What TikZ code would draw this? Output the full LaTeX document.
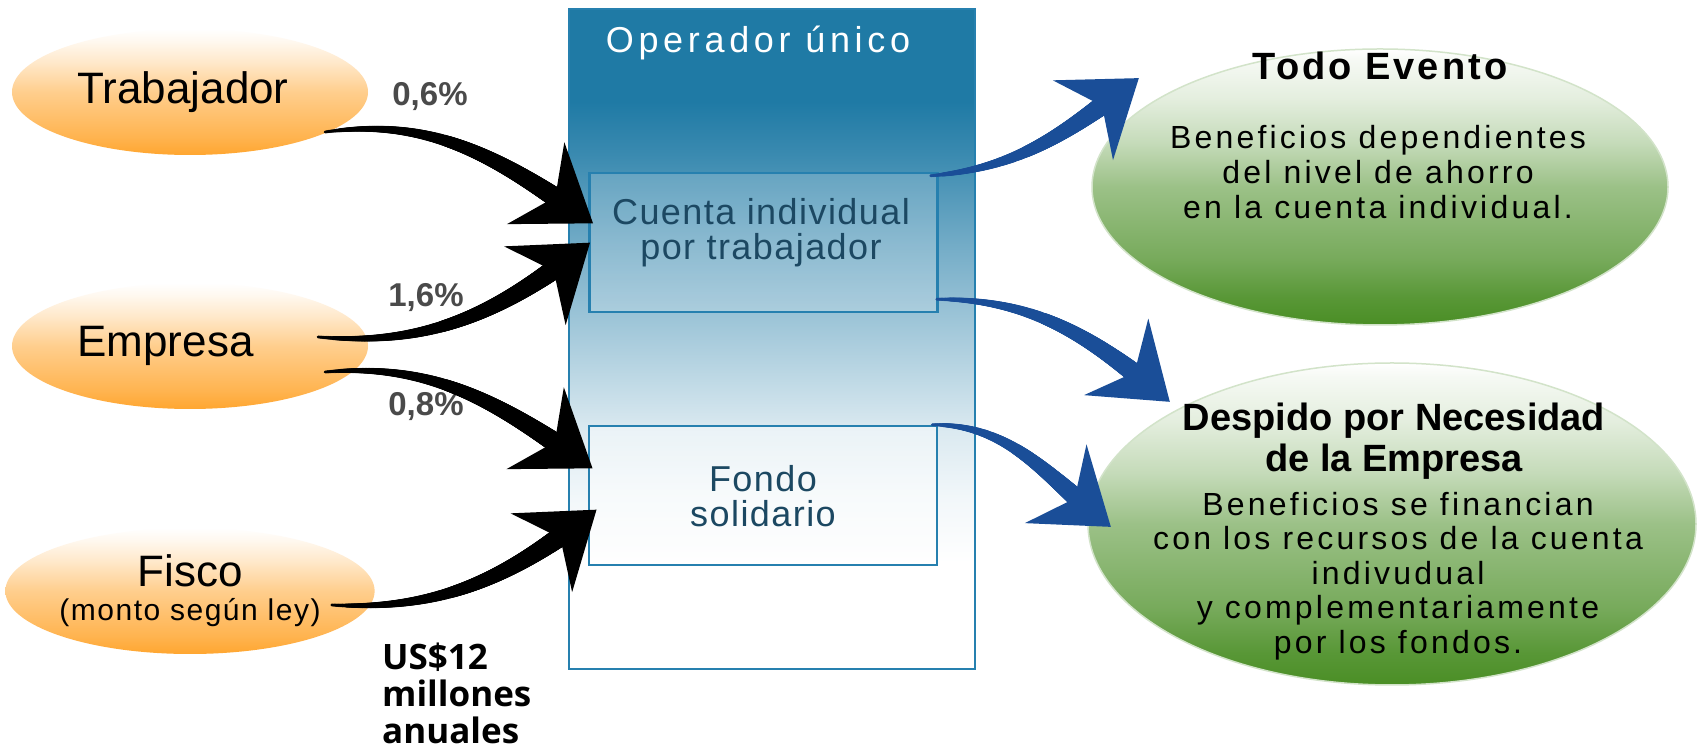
\documentclass[tikz,border=0pt]{standalone}
\usepackage{fontspec}
\setmainfont{Liberation Sans}
\newfontfamily\opfont[LetterSpace=13]{Liberation Sans}
\newfontfamily\cajafont[LetterSpace=4]{Liberation Sans}
\newfontfamily\verdefont[LetterSpace=10]{Liberation Sans}
\newfontfamily\todofont[LetterSpace=8]{Liberation Sans}
\newfontfamily\montofont[LetterSpace=5]{Liberation Sans}
\newfontfamily\usfont{Open Sans}
\usetikzlibrary{shapes,positioning,decorations.markings}

\definecolor{opblue}{RGB}{31,122,165}
\definecolor{opborde}{RGB}{38,128,175}
\definecolor{cajatexto}{RGB}{28,72,98}
\definecolor{azulflecha}{RGB}{26,78,152}
\definecolor{naranja}{RGB}{255,166,48}
\definecolor{verde}{RGB}{74,142,37}
\definecolor{gris}{RGB}{74,74,74}

\pgfdeclareverticalshading{opshade}{100bp}{color(0bp)=(white); color(33bp)=(white);
  color(38bp)=(opblue!6); color(43bp)=(opblue!16); color(51bp)=(opblue!42);
  color(57bp)=(opblue!62); color(64bp)=(opblue!88); color(68bp)=(opblue); color(100bp)=(opblue)}
\pgfdeclareverticalshading{naranjashade}{100bp}{color(0bp)=(naranja); color(25bp)=(naranja);
  color(32bp)=(naranja!85); color(50bp)=(naranja!55); color(62bp)=(naranja!25);
  color(70bp)=(naranja!8); color(75bp)=(white); color(100bp)=(white)}
\pgfdeclareverticalshading{verdeshade}{100bp}{color(0bp)=(verde); color(25bp)=(verde);
  color(30bp)=(verde!92); color(37bp)=(verde!75); color(50bp)=(verde!55); color(58bp)=(verde!32);
  color(66bp)=(verde!15); color(73bp)=(verde!5); color(75bp)=(white); color(100bp)=(white)}

\tikzset{
  origen/.style={ellipse, shade, shading=naranjashade, minimum width=356, minimum height=126,
    inner sep=0, font=\fontsize{44}{48}\selectfont},
  destino/.style={ellipse, shade, shading=verdeshade, draw=verde!25, line width=1.5},
  caja/.style={rectangle, draw=opborde, line width=2.5, minimum width=348, minimum height=139},
  cajatxt/.style={inner sep=0, align=center, text=cajatexto, font=\cajafont\fontsize{36}{35}\selectfont},
  pct/.style={text=gris, font=\bfseries\fontsize{33}{36}\selectfont},
  titulo/.style={inner sep=0, align=center, font=\bfseries\fontsize{38}{41}\selectfont},
  cuerpo/.style={inner sep=0, align=center, font=\verdefont\fontsize{32}{35}\selectfont},
  % cola que se ensancha + punta
  flecha/.style={
    postaction={decorate, decoration={markings,
      mark=between positions 0 and 0.88 step 0.8pt with {%
        \pgfmathsetmacro\grosor{1.5+10*\pgfkeysvalueof{/pgf/decoration/mark info/distance from start}/\pgfdecoratedpathlength}%
        \fill[#1] (0,0) circle (\grosor);}}},
    postaction={decorate, decoration={markings,
      mark=at position 0.999 with {\fill[#1] (0,0) -- (-70,50) -- (-46,0) -- (-70,-50) -- cycle;}}}}
}

\begin{document}
\begin{tikzpicture}[x=1pt,y=1pt]
\useasboundingbox (0,0) rectangle (1698,752);
\fill[white] (0,0) rectangle (1698,752);

% operador unico
\node[draw=opborde, line width=2.5, shade, shading=opshade, minimum width=406, minimum height=660] (op) at (772,413) {};
\node[text=white, font=\opfont\fontsize{36}{40}\selectfont] (optitulo) at (758,709) {Operador único};
\node[caja, fill=white, fill opacity=0.18] (cuenta) at (763.5,509.5) {};
\node[caja, fill=white, fill opacity=0.45] (fondo) at (763,256.5) {};
\node[cajatxt, anchor=north] (cuentatxt) at (761,554) {Cuenta individual\\por trabajador};
\node[cajatxt, anchor=north] (fondotxt) at (763,287) {Fondo\\solidario};

% aportantes
\node[origen, text width=225, align=left] (trab) at (190,660) {Trabajador};
\node[origen, text width=225, align=left] (emp) at (190,406) {Empresa};
\node[origen, align=center] (fisco) at (190,161) {Fisco\\[-14pt]{\montofont\fontsize{30}{34}\selectfont (monto según ley)}};
\node[pct] (p1) at (430,655) {0,6\%};
\node[pct] (p2) at (426,454) {1,6\%};
\node[pct] (p3) at (426,345) {0,8\%};
\node[anchor=north west, inner sep=0, align=left, font=\usfont\bfseries\fontsize{35}{37}\selectfont] (us) at (382,109) {US\$12\\millones\\anuales};

% beneficios
\node[destino, minimum width=576, minimum height=276] (todo) at (1380,565) {};
\node[destino, minimum width=608, minimum height=322] (despido) at (1392,228) {};
\node[titulo, font=\todofont\bfseries\fontsize{38}{41}\selectfont] (todotit) at (1380,686) {Todo Evento};
\node[cuerpo, anchor=north] (todotxt) at (1378,627) {Beneficios dependientes\\del nivel de ahorro\\en la cuenta individual.};
\node[titulo, anchor=north] (despidotit) at (1394,349) {Despido por Necesidad\\de la Empresa};
\node[cuerpo, anchor=north, font=\verdefont\fontsize{32}{34.5}\selectfont] (despidotxt) at (1398,260)
  {Beneficios se financian\\con los recursos de la cuenta\\indivudual\\y complementariamente\\por los fondos.};

% flechas
\coordinate (todoin) at (1139,674);
\coordinate (despidoin) at (1170,350);
\coordinate (despidoin2) at (1111,225);
\path[flecha=black] ([shift={(-43,-40)}]trab.east) to[out=8,in=145] ([shift={(5,19)}]cuenta.west);
\path[flecha=black] ([shift={(-50,9)}]emp.east) to[out=-5,in=218] ([shift={(2,0)}]cuenta.west);
\path[flecha=black] ([shift={(-43,-26)}]emp.east) to[out=5,in=145] ([shift={(5,27)}]fondo.west);
\path[flecha=black] ([shift={(-43,-14)}]fisco.east) to[out=-3,in=218] ([shift={(9,-14)}]fondo.west);
\path[flecha=azulflecha] ([shift={(-8,-4)}]cuenta.north east) to[out=5,in=217] (todoin);
\path[flecha=azulflecha] ([shift={(-2,14)}]cuenta.south east) to[out=0,in=140] (despidoin);
\path[flecha=azulflecha] ([shift={(-6,0)}]fondo.north east) to[out=0,in=142] (despidoin2);
\end{tikzpicture}
\end{document}
